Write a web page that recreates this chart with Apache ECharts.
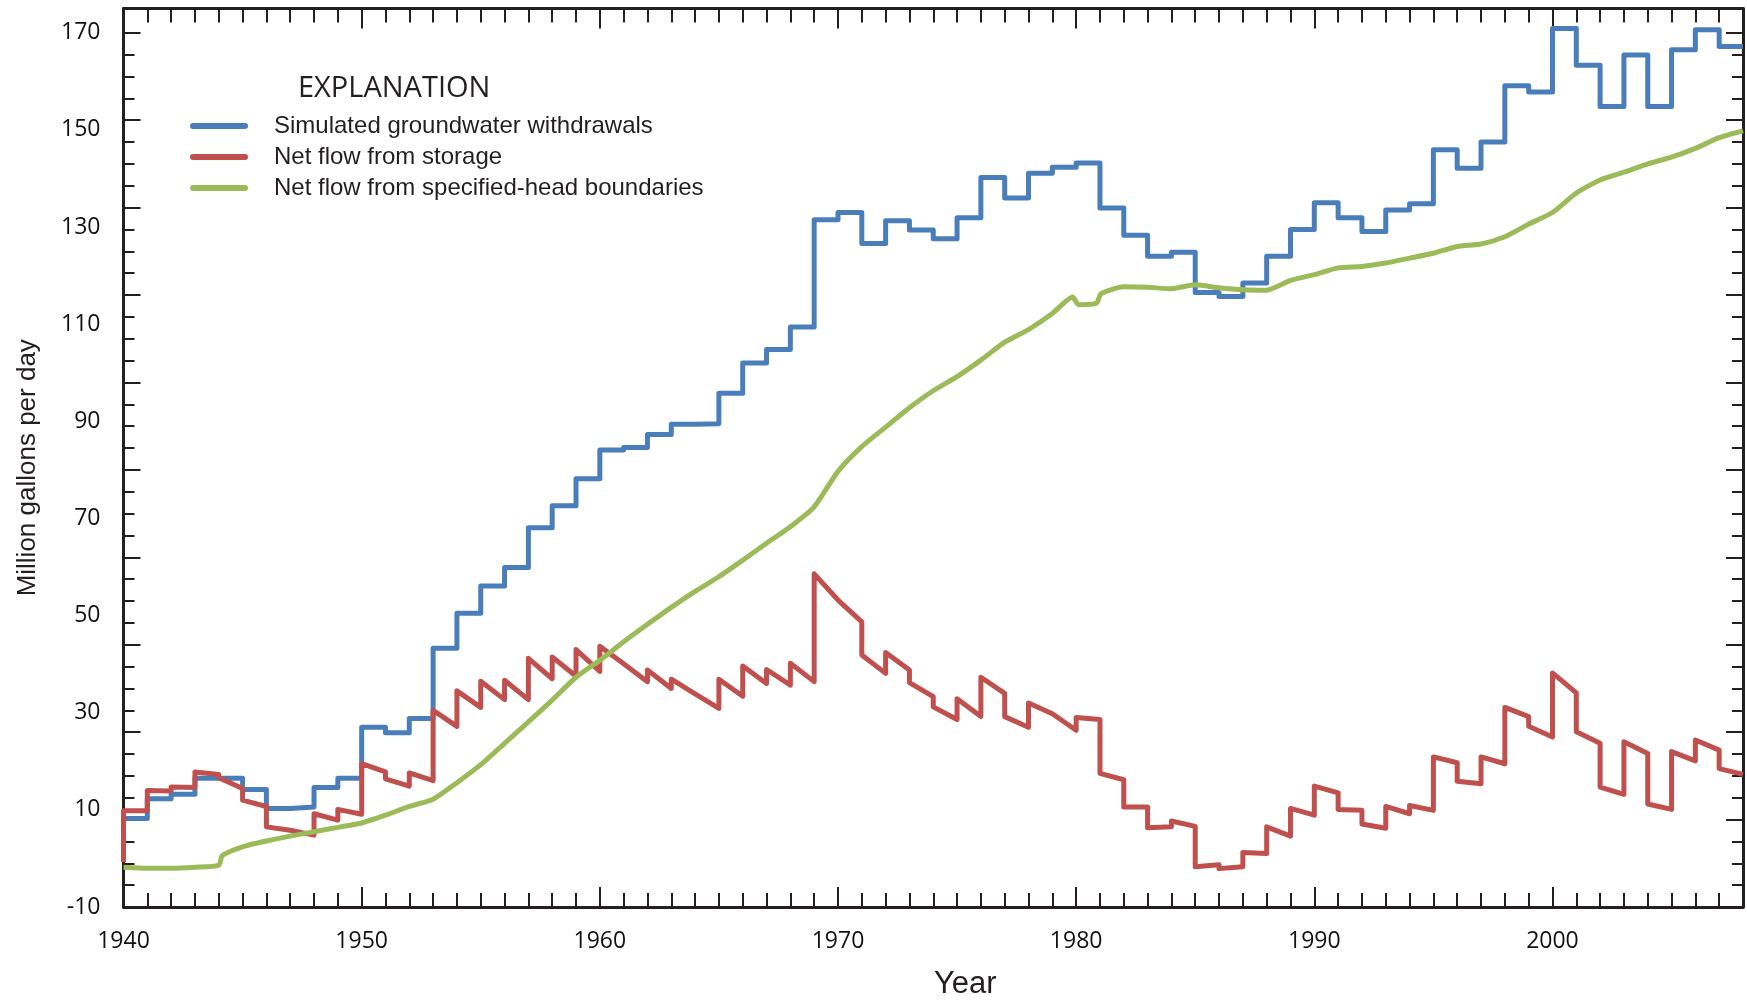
<!DOCTYPE html>
<html>
<head>
<meta charset="utf-8">
<title>Simulated groundwater budget, 1940-2008</title>
<script src="https://cdn.jsdelivr.net/npm/echarts@6.0.0/dist/echarts.min.js"></script>
<style>
  html, body { margin: 0; padding: 0; background: #fff; }
  #chart { width: 1747px; height: 1003px; }
</style>
</head>
<body>
<div id="chart"></div>
<script>
// stress-period years (one value per year, 1940-2007)
var years = [1940, 1941, 1942, 1943, 1944, 1945, 1946, 1947, 1948, 1949,
  1950, 1951, 1952, 1953, 1954, 1955, 1956, 1957, 1958, 1959,
  1960, 1961, 1962, 1963, 1964, 1965, 1966, 1967, 1968, 1969,
  1970, 1971, 1972, 1973, 1974, 1975, 1976, 1977, 1978, 1979,
  1980, 1981, 1982, 1983, 1984, 1985, 1986, 1987, 1988, 1989,
  1990, 1991, 1992, 1993, 1994, 1995, 1996, 1997, 1998, 1999,
  2000, 2001, 2002, 2003, 2004, 2005, 2006, 2007];
var endYear = 2008;

// Simulated groundwater withdrawals (Mgal/d), held over each year
var withdrawals = [8.2, 12.3, 13.2, 16.5, 16.5, 14.2, 10.3, 10.6, 14.6, 16.5,
  27.0, 25.9, 28.8, 43.3, 50.5, 56.1, 59.9, 68.1, 72.6, 78.2,
  84.1, 84.6, 87.3, 89.4, 89.5, 95.8, 102.0, 104.8, 109.4, 131.5,
  133.0, 126.6, 131.3, 129.4, 127.6, 131.9, 140.2, 136.0, 141.1, 142.3,
  143.2, 133.9, 128.3, 124.0, 124.8, 116.5, 115.7, 118.5, 124.0, 129.5,
  135.0, 131.9, 129.1, 133.5, 134.8, 145.9, 142.1, 147.5, 159.1, 157.8,
  170.9, 163.3, 154.8, 165.4, 154.8, 166.5, 170.6, 167.2];

// Net flow from storage: value at start and at end of each year
var storageInitial = -0.8;
var storageStart = [9.8, 14.0, 14.7, 17.8, 16.6, 12.0, 6.5, 5.8, 9.2, 10.1,
  19.5, 16.4, 17.6, 30.5, 34.5, 36.5, 36.7, 41.2, 41.5, 43.0,
  43.7, 39.8, 38.8, 36.9, 33.9, 36.9, 39.6, 38.9, 40.2, 58.6,
  53.5, 41.9, 42.4, 36.2, 31.2, 32.9, 37.3, 29.2, 32.0, 30.0,
  29.0, 17.5, 10.6, 6.3, 7.7, -1.7, -2.1, 1.2, 6.5, 10.3,
  14.9, 10.1, 7.1, 10.7, 10.9, 20.9, 15.9, 20.9, 31.1, 27.2,
  38.2, 26.1, 14.7, 24.0, 11.2, 22.0, 24.4, 18.5];
var storageEnd = [9.8, 13.9, 14.6, 17.3, 14.4, 10.7, 5.8, 4.8, 7.9, 9.1,
  17.8, 14.9, 16.0, 27.2, 31.1, 32.7, 32.7, 37.0, 37.5, 38.5,
  40.1, 36.4, 35.0, 33.9, 30.9, 33.4, 36.0, 35.7, 36.4, 53.2,
  48.7, 38.1, 38.8, 33.3, 28.6, 29.2, 34.0, 27.0, 29.8, 26.4,
  28.6, 16.2, 10.6, 6.5, 6.6, -1.3, -1.7, 1.0, 4.6, 8.9,
  13.5, 9.9, 6.2, 9.2, 9.9, 19.7, 15.4, 19.5, 29.2, 25.0,
  34.1, 23.7, 13.2, 21.6, 10.1, 20.1, 22.3, 17.3];

// Net flow from specified-head boundaries
var boundaryYears = [1940, 1941, 1942, 1943, 1944, 1944.15, 1945, 1946, 1947, 1948, 1949,
  1950, 1951, 1952, 1953, 1954, 1955, 1956, 1957, 1958, 1959,
  1960, 1961, 1962, 1963, 1964, 1965, 1966, 1967, 1968, 1969,
  1970, 1971, 1972, 1973, 1974, 1975, 1976, 1977, 1978, 1979, 1979.85,
  1980.1, 1980.85, 1981.05, 1982, 1983, 1984, 1985, 1986, 1987, 1988, 1989,
  1990, 1991, 1992, 1993, 1994, 1995, 1996, 1997, 1998, 1999,
  2000, 2001, 2002, 2003, 2004, 2005, 2006, 2007, 2008];
var boundaryFlow = [-1.8, -2.0, -2.0, -1.8, -1.4, 0.6, 2.4, 3.6, 4.6, 5.5, 6.4,
  7.3, 8.9, 10.7, 12.2, 15.6, 19.3, 23.7, 28.1, 32.6, 37.3,
  40.8, 44.6, 48.2, 51.7, 55.0, 58.0, 61.4, 64.9, 68.3, 72.4,
  79.7, 84.8, 88.8, 92.8, 96.3, 99.2, 102.6, 106.3, 108.9, 112.2, 115.6,
  114.0, 114.3, 116.3, 117.7, 117.6, 117.3, 118.1, 117.5, 117.1, 117.0, 119.0,
  120.2, 121.6, 121.9, 122.6, 123.6, 124.6, 126.0, 126.5, 128.0, 130.6,
  133.0, 137.0, 139.7, 141.3, 143.0, 144.4, 146.2, 148.4, 149.8];

// axis labels and tick marks
var xLabels = [1940, 1950, 1960, 1970, 1980, 1990, 2000];
var xMinorTicks = years.concat([endYear]);
var yLabels = [-10, 10, 30, 50, 70, 90, 110, 130, 150, 170];
var yMajorTicks = [-10, 8, 26, 44, 62, 80, 98, 116, 134, 152, 170];
var yMinorTicks = [-10, -5.5, -1, 3.5, 8, 12.5, 17, 21.5, 26, 30.5, 35, 39.5, 44, 48.5,
  53, 57.5, 62, 66.5, 71, 75.5, 80, 84.5, 89, 93.5, 98, 102.5, 107, 111.5, 116,
  120.5, 125, 129.5, 134, 138.5, 143, 147.5, 152, 156.5, 161, 165.5, 170];

var INK = '#231f20';
var BLUE = '#4a7ebb';
var RED = '#c0504d';
var GREEN = '#9bbb59';

// build series points
var withdrawalData = years.map(function (y, i) { return [y, withdrawals[i]]; });
withdrawalData.push([endYear, withdrawals[withdrawals.length - 1]]);

var storageData = [[years[0], storageInitial]];
years.forEach(function (y, i) {
  storageData.push([y, storageStart[i]]);
  storageData.push([y + 1, storageEnd[i]]);
});

var boundaryData = boundaryYears.map(function (y, i) { return [y, boundaryFlow[i]]; });

function plainNumber(v) { return String(v); }

function tickAxis(pos, min, max, ticks, len, showLine) {
  return {
    type: 'value', position: pos, min: min, max: max,
    axisLine: { show: showLine, onZero: false, lineStyle: { color: INK, width: 3 } },
    axisTick: { inside: true, length: len, customValues: ticks, lineStyle: { color: INK, width: 2 } },
    axisLabel: { show: false },
    splitLine: { show: false }
  };
}

var chart = echarts.init(document.getElementById('chart'));

var bottomAxis = tickAxis('bottom', 1940, endYear, xLabels, 20, true);
bottomAxis.axisLabel = { show: true, customValues: xLabels, margin: 23, formatter: plainNumber,
  fontFamily: 'Open Sans', fontSize: 23, color: '#111' };
bottomAxis.name = 'Year';
bottomAxis.nameLocation = 'middle';
bottomAxis.nameGap = 62;
bottomAxis.nameTextStyle = { fontFamily: 'Liberation Sans', fontSize: 31, color: INK, padding: [0, 0, 0, 64] };

var leftAxis = tickAxis('left', -10, 175, yMajorTicks, 17, true);
leftAxis.axisLabel = { show: true, customValues: yLabels, margin: 23, formatter: plainNumber,
  fontFamily: 'Open Sans', fontSize: 23, color: '#111' };
leftAxis.name = 'Million gallons per day';
leftAxis.nameLocation = 'middle';
leftAxis.nameGap = 83;
leftAxis.nameTextStyle = { fontFamily: 'Liberation Sans', fontSize: 26, color: INK, padding: [0, 20, 0, 0] };

var option = {
  animation: false,
  backgroundColor: '#fff',
  title: {
    text: 'EXPLANATION', left: 298, top: 74, padding: 0,
    textStyle: { fontFamily: 'Open Sans', fontSize: 29, fontWeight: 'normal', color: INK }
  },
  legend: {
    orient: 'vertical', left: 190, top: 113, padding: 0,
    itemWidth: 52, itemHeight: 14, itemGap: 5,
    data: ['Simulated groundwater withdrawals', 'Net flow from storage', 'Net flow from specified-head boundaries'],
    lineStyle: { width: 6, cap: 'round' },
    itemStyle: { opacity: 0 },
    textStyle: { fontFamily: 'Liberation Sans', fontSize: 24, lineHeight: 26, color: INK, padding: [0, 0, 0, 24] }
  },
  grid: { left: 123.5, right: 4, top: 8.5, bottom: 96, outerBoundsMode: 'none' },
  xAxis: [
    bottomAxis,
    tickAxis('bottom', 1940, endYear, xMinorTicks, 14, false),
    tickAxis('top', 1940, endYear, xLabels, 20, true),
    tickAxis('top', 1940, endYear, xMinorTicks, 14, false)
  ],
  yAxis: [
    leftAxis,
    tickAxis('left', -10, 175, yMinorTicks, 11, false),
    tickAxis('right', -10, 175, yMajorTicks, 17, true),
    tickAxis('right', -10, 175, yMinorTicks, 11, false)
  ],
  series: [
    {
      name: 'Simulated groundwater withdrawals', type: 'line', step: 'end',
      data: withdrawalData, symbol: 'none',
      lineStyle: { width: 5, color: BLUE, join: 'round' }, itemStyle: { color: BLUE }
    },
    {
      name: 'Net flow from storage', type: 'line',
      data: storageData, symbol: 'none',
      lineStyle: { width: 5, color: RED, join: 'round' }, itemStyle: { color: RED }
    },
    {
      name: 'Net flow from specified-head boundaries', type: 'line',
      data: boundaryData, symbol: 'none', smooth: 0.2,
      lineStyle: { width: 5, color: GREEN, join: 'round' }, itemStyle: { color: GREEN }
    }
  ]
};

chart.setOption(option);
</script>
</body>
</html>
